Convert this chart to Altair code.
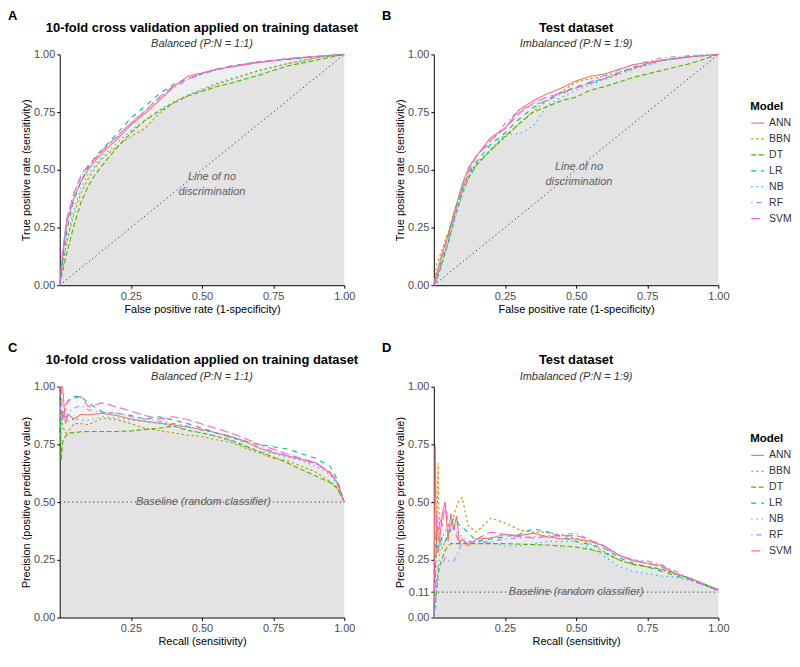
import altair as alt
import pandas as pd

MODELS = ["ANN", "BBN", "DT", "LR", "NB", "RF", "SVM"]
COLORS = ["#F8766D", "#C49A00", "#53B400", "#00C094", "#00B6EB", "#A58AFF", "#FB61D7"]
DASHES = [[1, 0], [2.5, 2.5], [5, 2.5], [5, 5], [1.3, 3.9], [1.3, 3.9, 5.2, 3.9], [9, 4]]

# ---------- Panel A: ROC, 10-fold CV (balanced) ----------
A_X = [0, 0.01, 0.025, 0.05, 0.075, 0.1, 0.125, 0.15, 0.2, 0.25, 0.3, 0.35, 0.4, 0.45, 0.5, 0.55, 0.6, 0.7, 0.8, 0.9, 1.0]
A_ANN = [0, 0.12, 0.27, 0.38, 0.45, 0.50, 0.54, 0.575, 0.63, 0.695, 0.745, 0.80, 0.86, 0.905, 0.92, 0.935, 0.945, 0.965, 0.98, 0.99, 1.0]
A_BBN = [0, 0.08, 0.19, 0.31, 0.40, 0.46, 0.51, 0.55, 0.60, 0.645, 0.68, 0.745, 0.79, 0.82, 0.845, 0.87, 0.89, 0.93, 0.96, 0.985, 1.0]
A_DT = [0, 0.06, 0.14, 0.26, 0.36, 0.43, 0.48, 0.52, 0.595, 0.66, 0.715, 0.755, 0.79, 0.82, 0.84, 0.86, 0.875, 0.91, 0.95, 0.975, 1.0]
A_LR = [0, 0.10, 0.24, 0.37, 0.45, 0.51, 0.555, 0.59, 0.655, 0.725, 0.775, 0.83, 0.87, 0.895, 0.915, 0.935, 0.95, 0.968, 0.978, 0.99, 1.0]
A_NB = [0, 0.08, 0.20, 0.33, 0.42, 0.48, 0.52, 0.56, 0.615, 0.67, 0.715, 0.76, 0.795, 0.825, 0.85, 0.875, 0.895, 0.93, 0.96, 0.985, 1.0]
A_RF = [0, 0.14, 0.28, 0.40, 0.47, 0.515, 0.55, 0.585, 0.64, 0.705, 0.755, 0.81, 0.855, 0.89, 0.915, 0.932, 0.945, 0.965, 0.98, 0.99, 1.0]
A_SVM = [0, 0.15, 0.29, 0.40, 0.476, 0.52, 0.55, 0.585, 0.645, 0.70, 0.755, 0.815, 0.864, 0.895, 0.918, 0.935, 0.948, 0.968, 0.982, 0.992, 1.0]

# ---------- Panel B: ROC, test set (imbalanced) ----------
B_X = A_X
B_ANN = [0, 0.05, 0.12, 0.22, 0.33, 0.44, 0.515, 0.56, 0.64, 0.68, 0.76, 0.80, 0.83, 0.855, 0.885, 0.905, 0.915, 0.955, 0.975, 0.99, 1.0]
B_BBN = [0, 0.09, 0.14, 0.23, 0.33, 0.41, 0.48, 0.53, 0.585, 0.64, 0.70, 0.755, 0.80, 0.84, 0.88, 0.895, 0.905, 0.94, 0.975, 0.99, 1.0]
B_DT = [0, 0.02, 0.08, 0.18, 0.30, 0.40, 0.47, 0.52, 0.585, 0.645, 0.70, 0.75, 0.775, 0.80, 0.815, 0.845, 0.86, 0.90, 0.93, 0.96, 1.0]
B_LR = [0, 0.03, 0.10, 0.21, 0.33, 0.42, 0.49, 0.535, 0.61, 0.66, 0.72, 0.77, 0.805, 0.835, 0.86, 0.88, 0.895, 0.945, 0.975, 0.99, 1.0]
B_NB = [0, 0.02, 0.08, 0.18, 0.29, 0.39, 0.47, 0.52, 0.59, 0.655, 0.655, 0.69, 0.78, 0.815, 0.845, 0.87, 0.89, 0.935, 0.97, 0.99, 1.0]
B_RF = [0, 0.03, 0.09, 0.19, 0.31, 0.43, 0.52, 0.56, 0.62, 0.70, 0.76, 0.78, 0.80, 0.83, 0.855, 0.88, 0.91, 0.955, 0.985, 0.995, 1.0]
B_SVM = [0, 0.04, 0.11, 0.21, 0.32, 0.42, 0.50, 0.56, 0.63, 0.68, 0.745, 0.79, 0.815, 0.835, 0.855, 0.875, 0.895, 0.94, 0.975, 0.99, 1.0]

# ---------- Panel C: PR, 10-fold CV (balanced) ----------
C_X = [0, 0.005, 0.01, 0.02, 0.03, 0.05, 0.075, 0.1, 0.15, 0.2, 0.25, 0.3, 0.35, 0.4, 0.45, 0.5, 0.55, 0.6, 0.65, 0.7, 0.75, 0.8, 0.85, 0.9, 0.95, 0.975, 1.0]
C_ANN = [1.0, 1.0, 1.0, 0.84, 0.88, 0.86, 0.88, 0.878, 0.885, 0.875, 0.86, 0.85, 0.842, 0.835, 0.825, 0.815, 0.80, 0.785, 0.765, 0.734, 0.714, 0.70, 0.685, 0.67, 0.625, 0.585, 0.50]
C_BBN = [0.85, 0.90, 0.83, 0.80, 0.806, 0.84, 0.84, 0.835, 0.864, 0.857, 0.84, 0.82, 0.81, 0.80, 0.79, 0.785, 0.77, 0.76, 0.735, 0.714, 0.69, 0.68, 0.655, 0.63, 0.59, 0.565, 0.50]
C_DT = [1.0, 0.68, 0.76, 0.785, 0.80, 0.80, 0.805, 0.806, 0.806, 0.806, 0.808, 0.815, 0.82, 0.83, 0.81, 0.80, 0.785, 0.77, 0.745, 0.72, 0.695, 0.67, 0.64, 0.613, 0.585, 0.56, 0.50]
C_LR = [0.80, 0.90, 0.88, 0.90, 0.94, 0.957, 0.957, 0.93, 0.89, 0.885, 0.875, 0.86, 0.87, 0.855, 0.84, 0.82, 0.80, 0.78, 0.765, 0.75, 0.74, 0.73, 0.71, 0.69, 0.655, 0.60, 0.50]
C_NB = [0.85, 0.80, 0.90, 0.87, 0.85, 0.86, 0.856, 0.856, 0.87, 0.865, 0.855, 0.85, 0.84, 0.83, 0.815, 0.80, 0.785, 0.765, 0.74, 0.72, 0.71, 0.695, 0.68, 0.655, 0.62, 0.58, 0.50]
C_RF = [1.0, 0.85, 0.88, 0.86, 0.89, 0.907, 0.92, 0.90, 0.89, 0.885, 0.87, 0.86, 0.85, 0.84, 0.83, 0.81, 0.80, 0.78, 0.76, 0.74, 0.72, 0.70, 0.685, 0.665, 0.63, 0.59, 0.50]
C_SVM = [1.0, 1.0, 0.85, 0.92, 0.94, 0.95, 0.957, 0.914, 0.93, 0.912, 0.895, 0.875, 0.86, 0.87, 0.858, 0.838, 0.82, 0.80, 0.777, 0.75, 0.73, 0.707, 0.69, 0.67, 0.63, 0.585, 0.50]

# ---------- Panel D: PR, test set (imbalanced) ----------
D_X = [0, 0.005, 0.01, 0.015, 0.02, 0.03, 0.04, 0.05, 0.06, 0.07, 0.08, 0.09, 0.1, 0.12, 0.15, 0.2, 0.25, 0.3, 0.35, 0.4, 0.45, 0.5, 0.55, 0.6, 0.65, 0.7, 0.75, 0.8, 0.85, 0.9, 0.95, 1.0]
D_ANN = [0.0, 0.75, 0.30, 0.28, 0.33, 0.45, 0.50, 0.33, 0.45, 0.38, 0.44, 0.32, 0.34, 0.31, 0.34, 0.345, 0.36, 0.355, 0.365, 0.35, 0.34, 0.34, 0.33, 0.31, 0.27, 0.245, 0.235, 0.225, 0.19, 0.17, 0.145, 0.12]
D_BBN = [0.0, 0.15, 0.30, 0.67, 0.35, 0.30, 0.33, 0.36, 0.40, 0.44, 0.48, 0.51, 0.52, 0.40, 0.37, 0.43, 0.41, 0.38, 0.37, 0.37, 0.357, 0.343, 0.32, 0.285, 0.25, 0.23, 0.22, 0.207, 0.186, 0.17, 0.143, 0.12]
D_DT = [0.0, 0.05, 0.12, 0.18, 0.22, 0.26, 0.29, 0.31, 0.32, 0.32, 0.32, 0.32, 0.32, 0.32, 0.32, 0.32, 0.32, 0.318, 0.316, 0.314, 0.31, 0.305, 0.295, 0.28, 0.25, 0.23, 0.22, 0.21, 0.19, 0.17, 0.145, 0.12]
D_LR = [0.0, 0.20, 0.35, 0.30, 0.32, 0.35, 0.33, 0.36, 0.40, 0.43, 0.42, 0.40, 0.39, 0.37, 0.33, 0.34, 0.35, 0.36, 0.385, 0.37, 0.35, 0.33, 0.315, 0.30, 0.26, 0.235, 0.22, 0.20, 0.18, 0.165, 0.14, 0.12]
D_NB = [0.0, 0.05, 0.12, 0.21, 0.28, 0.35, 0.37, 0.40, 0.41, 0.39, 0.37, 0.36, 0.35, 0.33, 0.33, 0.325, 0.31, 0.31, 0.32, 0.33, 0.33, 0.33, 0.30, 0.265, 0.22, 0.20, 0.19, 0.18, 0.175, 0.16, 0.14, 0.12]
D_RF = [0.0, 0.10, 0.17, 0.22, 0.24, 0.23, 0.26, 0.25, 0.24, 0.245, 0.27, 0.30, 0.32, 0.335, 0.32, 0.33, 0.34, 0.345, 0.35, 0.355, 0.36, 0.365, 0.335, 0.30, 0.27, 0.25, 0.245, 0.23, 0.20, 0.17, 0.145, 0.12]
D_SVM = [0.0, 0.30, 0.45, 0.33, 0.43, 0.40, 0.50, 0.41, 0.37, 0.40, 0.35, 0.33, 0.33, 0.32, 0.34, 0.37, 0.36, 0.35, 0.345, 0.35, 0.355, 0.355, 0.335, 0.31, 0.27, 0.25, 0.235, 0.22, 0.19, 0.165, 0.14, 0.115]

ROC_Y_TICKS = [0, 0.25, 0.5, 0.75, 1.0]
PR_D_Y_TICKS = [0, 0.11, 0.25, 0.5, 0.75, 1.0]
X_TICKS = [0.25, 0.5, 0.75, 1.0]

TITLE_CV = "10-fold cross validation applied on training dataset"
TITLE_TEST = "Test dataset"
SUB_BAL = "Balanced (P:N = 1:1)"
SUB_IMB = "Imbalanced (P:N = 1:9)"
ROC_XT = "False positive rate (1-specificity)"
ROC_YT = "True positive rate (sensitivity)"
PR_XT = "Recall (sensitivity)"
PR_YT = "Precision (positive predictive value)"

W, H = 286, 232


def long_df(xs, series):
    rows = []
    for m, ys in zip(MODELS, series):
        for i, (xv, yv) in enumerate(zip(xs, ys)):
            rows.append({"x": xv, "y": yv, "model": m, "i": i})
    return pd.DataFrame(rows)


def panel(df, letter, title, subtitle, xtitle, ytitle, yticks, ref_x, ref_y,
          note, note_x, note_y, show_legend):
    xenc = alt.X("x:Q", scale=alt.Scale(domain=[0, 1], nice=False, zero=False),
                 axis=alt.Axis(values=X_TICKS, format=".2f", title=xtitle, labelFlush=False))
    yenc = alt.Y("y:Q", stack=None, scale=alt.Scale(domain=[0, 1], nice=False),
                 axis=alt.Axis(values=yticks, format=".2f", title=ytitle, labelFlush=False))
    if show_legend:
        leg = alt.Legend(title="Model", orient="none", legendX=318, legendY=47,
                         symbolType="stroke", symbolStrokeWidth=1.2, symbolSize=169,
                         labelFontSize=10.5, titleFontSize=11.5, titleFontWeight="bold",
                         titleColor="black", labelColor="#333333", rowPadding=3,
                         titlePadding=3, labelOffset=4)
    else:
        leg = None
    color = alt.Color("model:N", scale=alt.Scale(domain=MODELS, range=COLORS), legend=leg)
    dash = alt.StrokeDash("model:N", scale=alt.Scale(domain=MODELS, range=DASHES), legend=leg)

    area = alt.Chart(df).mark_area(color="#808080", fillOpacity=0.03, strokeWidth=0).encode(
        x=xenc, y=yenc, y2=alt.datum(0), detail="model:N")
    ref = alt.Chart(pd.DataFrame({"x": ref_x, "y": ref_y})).mark_line(
        color="#333333", strokeDash=[1.2, 3], strokeWidth=1).encode(x=xenc, y=yenc)
    lines = alt.Chart(df).mark_line(strokeWidth=1.1).encode(
        x=xenc, y=yenc, color=color, strokeDash=dash, order="i:Q")
    txt = alt.Chart(pd.DataFrame({"x": [note_x], "y": [note_y], "label": [note]})).mark_text(
        fontStyle="italic", color="#606060", fontSize=11, lineBreak="\n", lineHeight=15
    ).encode(x=xenc, y=yenc, text="label:N")
    heads = pd.DataFrame({"t": [letter, title, subtitle], "k": ["l", "t", "s"]})
    lab = alt.Chart(heads).transform_filter("datum.k == 'l'").mark_text(
        fontWeight="bold", fontSize=13, align="left", baseline="middle", color="black"
    ).encode(x=alt.value(-52), y=alt.value(-39), text="t:N")
    ttl = alt.Chart(heads).transform_filter("datum.k == 't'").mark_text(
        fontWeight="bold", fontSize=13, align="center", baseline="middle", color="black"
    ).encode(x=alt.value(W / 2), y=alt.value(-27), text="t:N")
    sub = alt.Chart(heads).transform_filter("datum.k == 's'").mark_text(
        fontStyle="italic", fontSize=11, align="center", baseline="middle", color="#333333"
    ).encode(x=alt.value(W / 2), y=alt.value(-10), text="t:N")
    return alt.layer(area, ref, lines, txt, lab, ttl, sub).properties(width=W, height=H)


dfA = long_df(A_X, [A_ANN, A_BBN, A_DT, A_LR, A_NB, A_RF, A_SVM])
dfB = long_df(B_X, [B_ANN, B_BBN, B_DT, B_LR, B_NB, B_RF, B_SVM])
dfC = long_df(C_X, [C_ANN, C_BBN, C_DT, C_LR, C_NB, C_RF, C_SVM])
dfD = long_df(D_X, [D_ANN, D_BBN, D_DT, D_LR, D_NB, D_RF, D_SVM])

pA = panel(dfA, "A", TITLE_CV, SUB_BAL, ROC_XT, ROC_YT, ROC_Y_TICKS, [0, 1], [0, 1],
           "Line of no\ndiscrimination", 0.535, 0.47, False)
pB = panel(dfB, "B", TITLE_TEST, SUB_IMB, ROC_XT, ROC_YT, ROC_Y_TICKS, [0, 1], [0, 1],
           "Line of no\ndiscrimination", 0.51, 0.51, True)
pC = panel(dfC, "C", TITLE_CV, SUB_BAL, PR_XT, PR_YT, ROC_Y_TICKS, [0, 1], [0.5, 0.5],
           "Baseline (random classifier)", 0.505, 0.5, False)
pD = panel(dfD, "D", TITLE_TEST, SUB_IMB, PR_XT, PR_YT, PR_D_Y_TICKS, [0, 1], [0.11, 0.11],
           "Baseline (random classifier)", 0.50, 0.11, True)

row1 = alt.hconcat(pA, pB, spacing=23).resolve_scale(color="independent", strokeDash="independent")
row2 = alt.hconcat(pC, pD, spacing=23).resolve_scale(color="independent", strokeDash="independent")

chart = alt.vconcat(row1, row2, spacing=28).resolve_scale(
    color="independent", strokeDash="independent"
).properties(padding=0).configure(font="Liberation Sans").configure_axis(
    domainColor="black", domainWidth=1, tickColor="black", tickSize=3, tickWidth=1,
    labelColor="#4d4d4d", labelFontSize=11, titleFontSize=11, titleColor="black",
    titleFontWeight="normal", grid=False, labelPadding=2, titlePadding=2
).configure_view(stroke=None)

chart.save("out.html", embed_options={"renderer": "svg", "actions": False})
